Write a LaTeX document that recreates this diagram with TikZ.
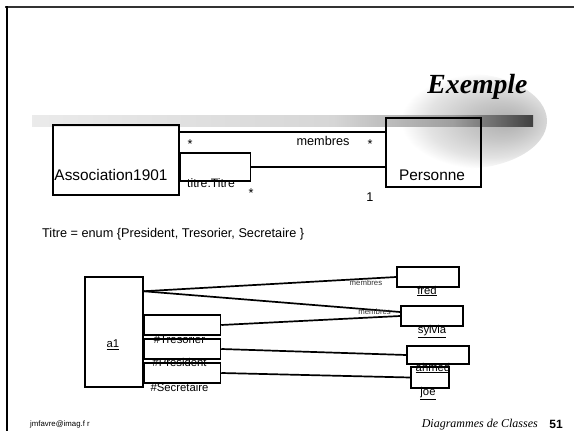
\documentclass[tikz,border=0pt]{standalone}
\usepackage{fontspec}
\setmainfont{Liberation Sans}
\newfontfamily\slideserif{Liberation Serif}
\usetikzlibrary{calc,positioning}
\newcommand{\clsf}{\fontsize{15.4}{17}\selectfont}
\newcommand{\rolef}{\fontsize{12.7}{14}\selectfont}
\newcommand{\objf}{\fontsize{11.3}{13}\selectfont}
\newcommand{\tinyf}{\fontsize{7.8}{9}\selectfont}
\pgfdeclarehorizontalshading{swbar}{100bp}{color(0bp)=(black!8); color(25bp)=(black!8);
  color(55bp)=(black!16); color(67bp)=(black!38); color(75bp)=(black!75); color(100bp)=(black!75)}
\pgfdeclareradialshading{swglow}{\pgfpoint{14bp}{0bp}}{color(0bp)=(black!32);
  color(10bp)=(black!22); color(19bp)=(black!11); color(25bp)=(white); color(50bp)=(white)}
\tikzset{
  cls/.style  ={rectangle, draw, line width=1.6pt, inner sep=0pt},
  qual/.style ={rectangle, draw, line width=1.5pt, inner sep=0pt},
  obj/.style  ={rectangle, draw, line width=1.5pt, inner sep=0pt},
  lnk/.style  ={draw, line width=1.7pt},
  role/.style ={font=\rolef, inner sep=0pt},
  nm/.style   ={font=\objf, inner sep=0pt},
  mlbl/.style ={font=\tinyf, text=black!80, inner sep=0pt},
}

\begin{document}
\begin{tikzpicture}[x=1pt, y=-1pt]
\useasboundingbox (0,0) rectangle (574,434);

% --- slide frame and swoosh -----------------------------------------
\draw[line width=2.6pt, black!80] (5,7) -- (574,7);
\draw[line width=2pt] (6.5,6) -- (6.5,431);
\shade[shading=swglow] (462,121) ellipse [x radius=85, y radius=48];
\shade[shading=swbar] (32,115) rectangle (533,126);
\node[font=\slideserif\bfseries\itshape\fontsize{27.7}{30}\selectfont, anchor=east]
  (ttl) at (531,87) {Exemple};

% --- class diagram --------------------------------------------------
\node[cls, minimum width=126pt, minimum height=70pt] (assoc) at (116,160) {};
\node[cls, minimum width=95pt, minimum height=69pt] (pers) at (433.5,152.5) {};
\node[qual, anchor=north west, minimum width=70pt, minimum height=28pt]
  (qt) at ([yshift=-28pt]assoc.north east) {};
\node[font=\clsf, inner sep=0pt] (nassoc) at (111,175) {Association1901};
\node[font=\clsf, inner sep=0pt] (npers) at (432,175) {Personne};

\coordinate (mA) at ([yshift=-8pt]assoc.north east);
\draw[lnk] (mA) -- (mA -| pers.west);
\draw[lnk] (qt.east) -- (qt.east -| pers.west);

\node[role] (s1) at (190,144) {*};
\node[role] (rm) at (323,141) {membres};
\node[role] (s2) at (370,144) {*};
\node[font=\fontsize{12.2}{14}\selectfont, inner sep=0pt] (rt) at (211,183) {titre:Titre};
\node[role] (s3) at (251,193) {*};
\node[role] (s4) at (370,197) {1};

\node[role, anchor=west] (enum) at (42,234)
  {Titre = enum \{President, Tresorier, Secretaire \}};

% --- object diagram -------------------------------------------------
\node[obj, minimum width=58pt, minimum height=110pt] (a1) at (114,332) {};
\node[nm] (la1) at (113,345) {\underline{a1}};
\node[qual, anchor=north west, minimum width=76pt, minimum height=20pt]
  (qtres) at ([yshift=-38pt]a1.north east) {};
\node[qual, anchor=north west, minimum width=76pt, minimum height=20pt]
  (qpres) at ([yshift=-62pt]a1.north east) {};
\node[qual, anchor=north west, minimum width=76pt, minimum height=20pt]
  (qsec) at ([yshift=-86pt]a1.north east) {};
\node[nm, anchor=north] (ltres) at ([xshift=-3pt,yshift=1pt]qtres.south) {\#Tresorier};
\node[nm, anchor=north] (lpres) at ([xshift=-3pt,yshift=2pt]qpres.south) {\#President};
\node[nm, anchor=north] (lsec) at ([xshift=-3pt,yshift=1pt]qsec.south) {\#Secretaire};

\node[obj, minimum width=62pt, minimum height=20pt] (fred) at (428,277) {};
\node[obj, minimum width=62pt, minimum height=20pt] (sylvia) at (432,316) {};
\node[obj, minimum width=62pt, minimum height=18pt] (ahmed) at (438,355) {};
\node[obj, minimum width=38pt, minimum height=21pt] (joe) at (430,377.5) {};
\node[nm, anchor=north] (nfred) at ([xshift=-1pt,yshift=2pt]fred.south) {\underline{fred}};
\node[nm, anchor=north] (nsyl) at ([yshift=2pt]sylvia.south) {\underline{sylvia}};
\node[nm, anchor=north] (nahm) at ([xshift=-5pt,yshift=2pt]ahmed.south) {\underline{ahmed}};
\node[nm, anchor=north] (njoe) at ([xshift=-2pt,yshift=2pt]joe.south) {\underline{joe}};

\coordinate (a1m) at ([yshift=-15pt]a1.north east);
\draw[lnk] (a1m) -- node[mlbl, pos=0.88, anchor=north] (m1) {membres} (fred.west);
\draw[lnk] (a1m) -- node[mlbl, pos=0.9, yshift=-2pt] (m2) {membres} ([yshift=4pt]sylvia.west);
\draw[lnk] (qtres.east) -- (sylvia.west);
\draw[lnk] (qpres.east) -- (ahmed.west);
\draw[lnk] (qsec.east) -- (joe.west);

% --- footer ---------------------------------------------------------
\node[font=\tinyf, anchor=west, inner sep=0pt] (mail) at (30,424) {jmfavre@imag.f r};
\node[font=\slideserif\itshape\fontsize{12}{14}\selectfont, anchor=east, inner sep=0pt]
  (dc) at (538,425) {Diagrammes de Classes};
\node[font=\bfseries\fontsize{12}{14}\selectfont, anchor=east, inner sep=0pt]
  (pg) at (563,424) {51};
\end{tikzpicture}
\end{document}
